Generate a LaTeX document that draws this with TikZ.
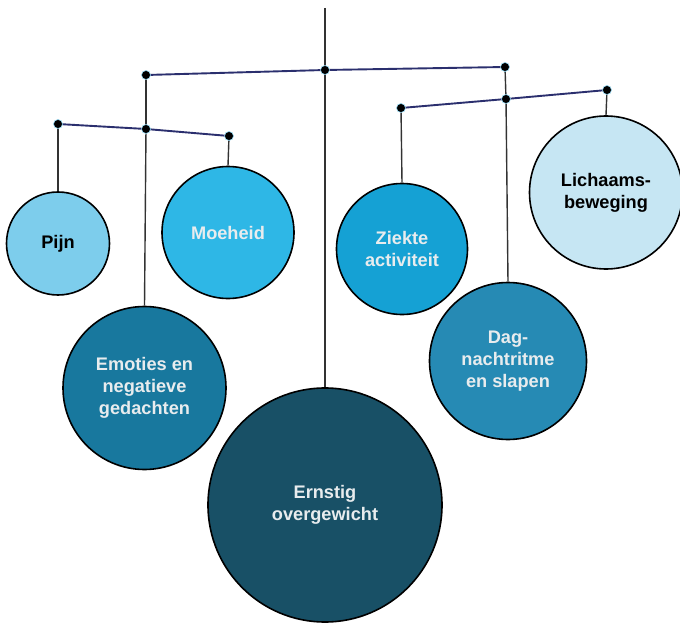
\documentclass[tikz,border=0pt]{standalone}
\usepackage{fontspec}
\setmainfont{Liberation Sans}
\usetikzlibrary{positioning}

\definecolor{pijnblue}{RGB}{125,205,236}
\definecolor{moeblue}{RGB}{46,183,230}
\definecolor{emoblue}{RGB}{24,120,158}
\definecolor{ernblue}{RGB}{24,80,102}
\definecolor{ziekblue}{RGB}{21,161,212}
\definecolor{dagblue}{RGB}{38,138,180}
\definecolor{lichblue}{RGB}{198,230,243}
\definecolor{barnavy}{RGB}{43,47,110}
\definecolor{textgrey}{RGB}{232,236,238}

\begin{document}
\begin{tikzpicture}[x=1pt,y=-1pt,
                    string/.style={draw=black!80,line width=1.4pt},
                    bar/.style={draw=barnavy,line width=1.9pt},
                    thick]
    \tikzset{ball/.style={circle,draw=black,line width=1.6pt,inner sep=0pt,
                          align=center,font=\fontsize{18.2}{21.8}\selectfont\bfseries,
                          text=textgrey}}
    \useasboundingbox (0,0) rectangle (680,623);
    % joints
    \coordinate (hook) at (325,8);
    \coordinate (top) at (325,70);
    \coordinate (topl) at (146,75);
    \coordinate (topr) at (505,67);
    \coordinate (ll) at (58,124);
    \coordinate (lm) at (146,129);
    \coordinate (lr) at (229,136);
    \coordinate (rl) at (401,108);
    \coordinate (rm) at (506,99);
    \coordinate (rr) at (607,90);
    % balls
    \node[ball,fill=pijnblue,minimum size=103pt,text=black] (pijn) at (58,243.5) {Pijn};
    \node[ball,fill=moeblue,minimum size=132pt] (moeheid) at (228,232.5) {Moeheid};
    \node[ball,fill=emoblue,minimum size=163pt] (emoties) at (144.5,388) {Emoties en\\negatieve\\gedachten};
    \node[ball,fill=ernblue,minimum size=234pt] (ernstig) at (325,505) {Ernstig\\overgewicht};
    \node[ball,fill=ziekblue,minimum size=131pt] (ziekte) at (402,249) {Ziekte\\activiteit};
    \node[ball,fill=dagblue,minimum size=157pt] (dag) at (508,361) {Dag-\\nachtritme\\en slapen};
    \node[ball,fill=lichblue,minimum size=153pt,text=black] (lichaam) at (606,192.5) {Lichaams-\\beweging};
    % strings
    \path[string]
    (hook) edge (top)
    (top) edge (ernstig.north)
    (topl) edge (lm)
    (lm) edge (emoties.north)
    (ll) edge (pijn.north)
    (lr) edge (moeheid.north)
    (topr) edge (rm)
    (rm) edge (dag.north)
    (rl) edge (ziekte.north)
    (rr) edge (lichaam.north);
    % bars
    \path[bar]
    (topl) edge (top)
    (top) edge (topr)
    (ll) edge (lm)
    (lm) edge (lr)
    (rl) edge (rm)
    (rm) edge (rr);
    \foreach \j in {top,topl,topr,ll,lm,lr,rl,rm,rr}
        \filldraw[fill=black,draw=cyan!40,line width=0.6pt] (\j) circle (4.5pt);
\end{tikzpicture}
\end{document}
